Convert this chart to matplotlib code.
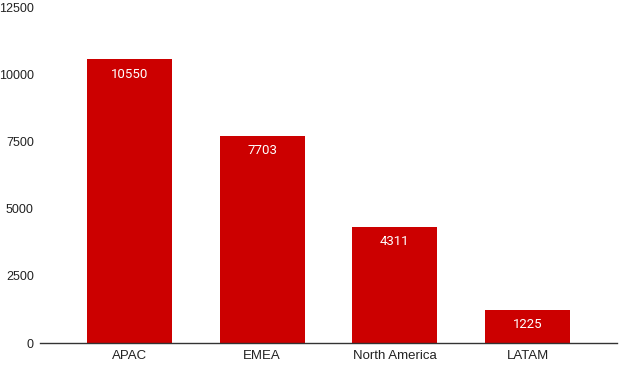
import matplotlib
matplotlib.use("Agg")
import matplotlib.pyplot as plt

# Data
regions = ["APAC", "EMEA", "North America", "LATAM"]
values = [10550, 7703, 4311, 1225]
y_ticks = [0, 2500, 5000, 7500, 10000, 12500]

BAR_COLOR = "#cc0000"

plt.rcParams["font.family"] = ["Liberation Sans", "DejaVu Sans"]

fig = plt.figure(figsize=(6.21, 3.66), dpi=100)
ax = fig.add_axes([40 / 621, 23 / 366, 577 / 621, 336 / 366])

x = range(len(regions))
bars = ax.bar(x, values, width=0.64, color=BAR_COLOR, zorder=2)

for rect, v in zip(bars, values):
    ax.annotate(str(v), (rect.get_x() + rect.get_width() / 2, v),
                xytext=(0, -6), textcoords="offset points",
                ha="center", va="top", color="white", fontsize=9.5,
                family=["Roboto", "DejaVu Sans"])

ax.set_xlim(-0.674, 3.674)
ax.set_ylim(0, 12500)
ax.set_yticks(y_ticks)
ax.set_yticklabels([str(t) for t in y_ticks])
ax.set_xticks(list(x))
ax.set_xticklabels(regions)

for side in ["top", "right", "left"]:
    ax.spines[side].set_visible(False)
ax.spines["bottom"].set_color("#333333")
ax.spines["bottom"].set_linewidth(1)

ax.tick_params(axis="y", length=0, pad=4.5, labelsize=9, labelcolor="#222222")
ax.tick_params(axis="x", length=0, pad=5, labelsize=9.5, labelcolor="#222222")

fig.savefig("out.png", dpi=100)
